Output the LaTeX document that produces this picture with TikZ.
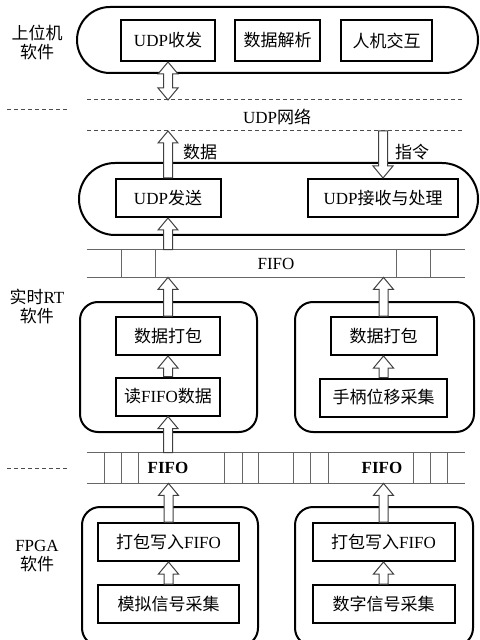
\documentclass[tikz,border=0pt]{standalone}
\usepackage{fontspec}
\setmainfont{Liberation Serif}
\newfontfamily\zh{Noto Sans CJK SC}
\usetikzlibrary{calc}

\begin{document}
\begin{tikzpicture}[x=0.5pt,y=-0.5pt]
  \tikzstyle{every node}=[font=\fontsize{8.5}{9.5}\selectfont, inner sep=0pt]
  \tikzstyle{box}=[draw, line width=1pt, minimum height=19pt]
  \tikzstyle{shell}=[draw, line width=1pt, rounded corners=9pt]
  \tikzstyle{bar}=[draw=black!60, line width=0.5pt]
  \tikzstyle{net}=[draw=black!70, line width=0.5pt, dash pattern=on 2pt off 1.5pt]
  \tikzstyle{fat}=[draw=black!75, fill=white, line width=0.5pt, to path={
    ($(\tikztotarget)!6pt!(\tikztostart)$) coordinate (hd)
    ($(\tikztostart)!2.25pt!90:(\tikztotarget)$) -- ($(hd)!2.25pt!90:(\tikztotarget)$)
    -- ($(hd)!5pt!90:(\tikztotarget)$) -- (\tikztotarget)
    -- ($(hd)!5pt!-90:(\tikztotarget)$) -- ($(hd)!2.25pt!-90:(\tikztotarget)$)
    -- ($(\tikztostart)!2.25pt!-90:(\tikztotarget)$) -- cycle}]
  \tikzstyle{fatboth}=[draw=black!75, fill=white, line width=0.5pt, to path={
    ($(\tikztotarget)!6pt!(\tikztostart)$) coordinate (hdt)
    ($(\tikztostart)!6pt!(\tikztotarget)$) coordinate (hds)
    (\tikztostart) -- ($(hds)!5pt!90:(\tikztotarget)$) -- ($(hds)!2.25pt!90:(\tikztotarget)$)
    -- ($(hdt)!2.25pt!90:(\tikztotarget)$) -- ($(hdt)!5pt!90:(\tikztotarget)$) -- (\tikztotarget)
    -- ($(hdt)!5pt!-90:(\tikztotarget)$) -- ($(hdt)!2.25pt!-90:(\tikztotarget)$)
    -- ($(hds)!2.25pt!-90:(\tikztotarget)$) -- ($(hds)!5pt!-90:(\tikztotarget)$) -- cycle}]

  \useasboundingbox (0,0) rectangle (479,640);
  \clip (0,0) rectangle (479,640);

  \node[shell, rounded corners=16.5pt, minimum width=200.5pt, minimum height=33pt] (host) at (277.5,40) {};
  \node[box, minimum width=47pt, minimum height=20.5pt] (udpio) at (168,40.5) {UDP{\zh 收发}};
  \node[box, minimum width=42.5pt, minimum height=20.5pt] (parse) at (277.5,40.5) {\zh 数据解析};
  \node[box, minimum width=45.5pt, minimum height=20.5pt] (hmi) at (386.5,40.5) {\zh 人机交互};
  \node[align=center] (lblhost) at (37,42) {{\zh 上位机}\\{\zh 软件}};

  \coordinate (neta) at (87,100);
  \coordinate (netb) at (465,100);
  \coordinate (netc) at (87,131);
  \coordinate (netd) at (465,131);
  \coordinate (sepa) at (7,110);
  \coordinate (sepb) at (68,110);
  \draw[net] (neta) -- (netb);
  \draw[net] (netc) -- (netd);
  \draw[net] (sepa) -- (sepb);
  \node (udpnet) at (277,117) {UDP{\zh 网络}};
  \draw[fatboth] (udpio.south) to (udpio.south |- neta);

  \node[shell, rounded corners=18pt, minimum width=199.5pt, minimum height=36pt] (udpsvc) at (278.5,199) {};
  \node[box, minimum width=52.5pt] (udpsend) at (168,198) {UDP{\zh 发送}};
  \node[box, minimum width=75pt] (udprecv) at (383,198) {UDP{\zh 接收与处理}};
  \node (lbldata) at (200,152) {\zh 数据};
  \node (lblcmd) at (412,152) {\zh 指令};
  \draw[fat] (udpsend.north) to (udpsend.north |- netc);
  \draw[fat] (udprecv.north |- netc) to (udprecv.north);

  \node[minimum width=189pt, minimum height=13.5pt] (fifoa) at (276,263.5) {FIFO};
  \draw[bar] (fifoa.north west) -- (fifoa.north east) (fifoa.south west) -- (fifoa.south east);
  \foreach \x in {121,155,396,430}
    \draw[bar] (\x,0 |- fifoa.north) -- (\x,0 |- fifoa.south);

  \node[shell, minimum width=88.5pt, minimum height=65pt] (rtl) at (168.5,367) {};
  \node[shell, minimum width=89.5pt, minimum height=65pt] (rtr) at (384.5,367) {};
  \node[box, minimum width=52pt] (packl) at (168,336) {\zh 数据打包};
  \node[box, minimum width=52pt] (readfifo) at (168,396.5) {{\zh 读}FIFO{\zh 数据}};
  \node[box, minimum width=53pt] (packr) at (383.5,336) {\zh 数据打包};
  \node[box, minimum width=63.5pt] (stick) at (383.5,397.5) {\zh 手柄位移采集};
  \node[align=center] (lblrt) at (37,306) {{\zh 实时}RT\\{\zh 软件}};
  \draw[fat] (fifoa.north -| udpsend) to (udpsend.south);
  \draw[fat] (packl.north) to (packl.north |- fifoa.south);
  \draw[fat] (packr.north) to (packr.north |- fifoa.south);
  \draw[fat] (readfifo.north) to (packl.south);
  \draw[fat] (stick.north) to (packr.south);

  \node[minimum width=189pt, minimum height=15pt] (fifob) at (276,468) {};
  \draw[bar] (fifob.north west) -- (fifob.north east) (fifob.south west) -- (fifob.south east);
  \foreach \x in {104,121,138,224,242,258,293,310,328,413,430,447}
    \draw[bar] (\x,0 |- fifob.north) -- (\x,0 |- fifob.south);
  \node[font=\fontsize{8.5}{9.5}\selectfont\bfseries] (fifobl) at (168,468) {FIFO};
  \node[font=\fontsize{8.5}{9.5}\selectfont\bfseries] (fifobr) at (382,468) {FIFO};
  \coordinate (sepc) at (7,468);
  \coordinate (sepd) at (68,468);
  \draw[net] (sepc) -- (sepd);
  \draw[fat] (fifob.north -| readfifo) to (readfifo.south);

  \node[shell, minimum width=88pt, minimum height=69.5pt] (fpgal) at (170,576.5) {};
  \node[shell, minimum width=89pt, minimum height=69.5pt] (fpgar) at (384,576.5) {};
  \node[box, minimum width=70.5pt] (wrl) at (168.5,542) {{\zh 打包写入}FIFO};
  \node[box, minimum width=70.5pt] (adc) at (168.5,604) {\zh 模拟信号采集};
  \node[box, minimum width=71pt] (wrr) at (383.5,542) {{\zh 打包写入}FIFO};
  \node[box, minimum width=71pt] (dig) at (383.5,604) {\zh 数字信号采集};
  \node[align=center] (lblfpga) at (37,556) {FPGA\\{\zh 软件}};
  \draw[fat] (wrl.north) to (wrl.north |- fifob.south);
  \draw[fat] (wrr.north) to (wrr.north |- fifob.south);
  \draw[fat] (adc.north) to (wrl.south);
  \draw[fat] (dig.north) to (wrr.south);
\end{tikzpicture}
\end{document}
